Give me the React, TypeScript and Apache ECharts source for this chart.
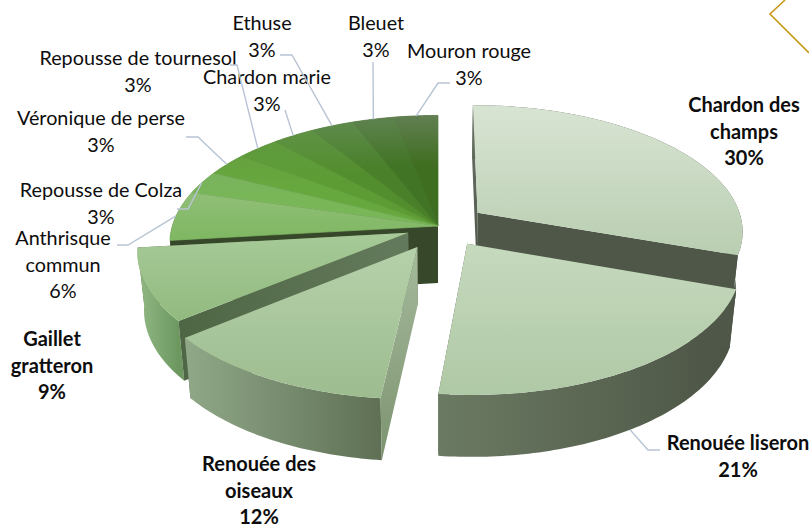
import React, { useEffect, useRef } from "react";
import * as echarts from "echarts";

const categories = [
  "Chardon des\nchamps", "Renouée liseron", "Renouée des\noiseaux", "Gaillet\ngratteron", "Anthrisque\ncommun",
  "Repousse de Colza", "Véronique de perse", "Repousse de tournesol", "Chardon marie", "Ethuse", "Bleuet", "Mouron rouge",
];
const percentLabels = [30, 21, 12, 9, 6, 3, 3, 3, 3, 3, 3, 3];
// values (unrounded shares behind the rounded labels)
const sliceValues = [30.4, 21.3, 12.4, 9.1, 6.2, 2.94, 2.94, 2.94, 2.94, 2.94, 2.94, 2.96];
const explodeShares = [0.185, 0.176, 0.18, 0.124, 0, 0, 0, 0, 0, 0, 0, 0];
const explodeTurns = [0, -5.5, -3.5, -3, 0, 0, 0, 0, 0, 0, 0, 0];
const boldLabels = [true, true, true, true, false, false, false, false, false, false, false, false];

// painter's order: back slices first
const paintOrder = [11, 10, 9, 8, 7, 6, 5, 4, 0, 3, 2, 1];

const topColors = [
  ["#d8e4d3", "#b9ceb1"], ["#c6dabe", "#afc8a5"], ["#b5d1aa", "#9dbc8f"], ["#a7ca98", "#92ba7f"],
  ["#90bf77", "#7fb762"], ["#7ab25e", "#78b657"], ["#66a13f", "#67a83e"], ["#609b3f", "#5d9c35"],
  ["#5f9245", "#538e2e"], ["#5f8b4d", "#498029"], ["#5f8350", "#417424"], ["#627f52", "#3f6e20"],
];
const outerColors = [
  ["#525a4c", "#4e5648"], ["#6b7a62", "#4c5445"], ["#90a888", "#5f7055"], ["#93b985", "#6c9860"],
  ["#37482a", "#37482a"], ["#37482a", "#37482a"], ["#37482a", "#37482a"], ["#37482a", "#37482a"],
  ["#37482a", "#37482a"], ["#37482a", "#37482a"], ["#37482a", "#37482a"], ["#37482a", "#37482a"],
];
const startFaceColors = [
  ["#6a7266", "#4f5749"], ["#4f5749", "#4f5749"], ["#a6ba9c", "#7c9370"], ["#4f6645", "#647a5c"],
  ["#37482a", "#37482a"], ["#37482a", "#37482a"], ["#37482a", "#37482a"], ["#37482a", "#37482a"],
  ["#37482a", "#37482a"], ["#37482a", "#37482a"], ["#37482a", "#37482a"], ["#37482a", "#37482a"],
];
const endFaceColors = [
  ["#4f5749", "#4f5749"], ["#4f5749", "#4f5749"], ["#5f7055", "#5f7055"], ["#4f6645", "#647a5c"],
  ["#37482a", "#37482a"], ["#37482a", "#37482a"], ["#37482a", "#37482a"], ["#37482a", "#37482a"],
  ["#37482a", "#37482a"], ["#37482a", "#37482a"], ["#37482a", "#37482a"], ["#37482a", "#37482a"],
];

const labelCenters = [
  [744, 104], [738, 442], [259, 463], [52, 338], [63, 237], [101, 189],
  [101, 117], [138, 57], [267, 76], [262, 22], [376, 22], [469, 50],
];
const leaderTails: (number[][] | null)[] = [
  null, [[648, 450], [660, 450]], null, null, [[128, 245], [117, 245]], [[188, 209], [177, 209]],
  [[198, 137], [186, 137]], [[237, 65], [230, 65]], [[285, 110]], [[292, 55], [280, 55]], [[373, 62]], [[438, 83], [450, 83]],
];

const CX = 438, CY = 226, RX = 265.7, RY = 125.5, K = 0.135, DEPTH = 57, SX = 0.978, SY = 1.029;
const LABEL_LINE = 26.7;

const totalValue = sliceValues.reduce((s, v) => s + v, 0);
const startShares: number[] = [];
sliceValues.reduce((acc, v, i) => { startShares[i] = acc; return acc + v; }, 0);

function spanOf(i: number) {
  const a0 = (startShares[i] / totalValue) * Math.PI * 2;
  const a1 = ((startShares[i] + sliceValues[i]) / totalValue) * Math.PI * 2;
  return { a0, a1, mid: (a0 + a1) / 2 };
}
function project(a: number, r: number, e: number, dir: number) {
  const u = r * Math.sin(a) + e * Math.sin(dir);
  const v = r * Math.cos(a) + e * Math.cos(dir);
  const w = 1 + K * v;
  return [CX + (RX * u) / w, CY - (RY * v) / w];
}
function lower(p: number[]) {
  return [CX + (p[0] - CX) * SX, CY + DEPTH + (p[1] - CY) * SY];
}
function grad(horizontal: boolean, from: number, to: number, stops: any[]) {
  return new echarts.graphic.LinearGradient(
    horizontal ? from : 0, horizontal ? 0 : from, horizontal ? to : 0, horizontal ? 0 : to,
    stops, true,
  );
}
const twoStops = (c: string[]) => [{ offset: 0, color: c[0] }, { offset: 1, color: c[1] }];
function bounds(pts: number[][], k: number) {
  const vals = pts.map((p) => p[k]);
  return [Math.min(...vals), Math.max(...vals)];
}

function renderSlice(_: any, api: any) {
  const i = api.value(0) as number;
  const { a0, a1, mid } = spanOf(i);
  const e = explodeShares[i];
  const dir = mid + (explodeTurns[i] * Math.PI) / 180;
  const steps = Math.max(4, Math.ceil(((a1 - a0) * 180) / Math.PI));
  const rim: number[][] = [];
  for (let s = 0; s <= steps; s++) rim.push(project(a0 + ((a1 - a0) * s) / steps, 1, e, dir));
  const apex = project(0, 0, e, dir);
  const apexLow = lower(apex);
  const rimLow = rim.map(lower);
  const poly = (points: number[][], fill: any, seam = false) => ({
    type: "polygon", shape: { points },
    style: seam ? { fill, stroke: fill, lineWidth: 0.7, lineJoin: "round" } : { fill, stroke: null },
  });
  const startFace = [apex, rim[0], rimLow[0], apexLow];
  const endFace = [apex, rim[steps], rimLow[steps], apexLow];
  const side = [...rim, ...rimLow.slice().reverse()];
  const topPts = [apex, ...rim];
  const [xa, xb] = bounds(rim, 0);
  const [ya, yb] = bounds(topPts, 1);
  const children: any[] = [];
  const faceGrad = (pts: number[][], c: string[]) => {
    const [x0, x1] = bounds(pts, 0);
    return grad(true, x0, Math.max(x1, x0 + 1), twoStops(c));
  };
  children.push(poly(endFace, faceGrad(endFace, endFaceColors[i])));
  children.push(poly(side, grad(true, xa, Math.max(xb, xa + 1), twoStops(outerColors[i]))));
  children.push(poly(startFace, i === 2 || i === 0
    ? (() => { const [y0, y1] = bounds(startFace, 1); return grad(false, y0, y1, twoStops(startFaceColors[i])); })()
    : faceGrad(startFace, startFaceColors[i])));
  const small = percentLabels[i] < 6;
  const topStops = small
    ? [{ offset: 0, color: topColors[i][0] }, { offset: 0.45, color: topColors[i][1] }, { offset: 1, color: topColors[i][1] }]
    : twoStops(topColors[i]);
  children.push(poly(topPts, grad(false, ya, yb, topStops), percentLabels[i] <= 6));
  return { type: "group", children };
}

function renderLeader(_: any, api: any) {
  const i = api.value(0) as number;
  const tail = leaderTails[i];
  if (!tail) return { type: "group", children: [] };
  const { mid } = spanOf(i);
  let anchor = project(mid, 1, explodeShares[i], mid + (explodeTurns[i] * Math.PI) / 180);
  if (i === 1) anchor = lower(anchor);
  return {
    type: "polyline",
    shape: { points: [anchor, ...tail] },
    style: { stroke: "#b8c4d4", lineWidth: 1.4, fill: null },
  };
}

function labelElements() {
  return categories.map((name, i) => ({
    type: "text",
    x: labelCenters[i][0],
    y: labelCenters[i][1] - LABEL_LINE / 2,
    silent: true,
    style: {
      text: `${name}\n${percentLabels[i]}%`,
      font: `${boldLabels[i] ? "bold 20px" : "19.8px"} Lato`,
      lineHeight: LABEL_LINE,
      fill: "#0d0d0d",
      align: "center",
      verticalAlign: "top",
    },
  }));
}

export default function App() {
  const ref = useRef<HTMLDivElement>(null);
  useEffect(() => {
    const chart = echarts.init(ref.current!, undefined, { renderer: "svg" });
    chart.setOption({
      animation: false,
      backgroundColor: "#ffffff",
      series: [
        {
          type: "custom", coordinateSystem: "none", silent: true, z: 2,
          renderItem: renderSlice,
          data: paintOrder.map((i) => [i, sliceValues[i]]),
        },
        {
          type: "custom", coordinateSystem: "none", silent: true, z: 3,
          renderItem: renderLeader,
          data: categories.map((_, i) => [i]),
        },
      ],
      graphic: [
        ...labelElements(),
        {
          type: "polyline", silent: true,
          shape: { points: [[785, 0], [770, 14], [809, 53]] },
          style: { stroke: "#c8991a", lineWidth: 1.6, fill: null },
        },
      ],
    });
    return () => chart.dispose();
  }, []);
  return <div ref={ref} style={{ position: "fixed", left: 0, top: 0, width: 809, height: 526 }} />;
}
